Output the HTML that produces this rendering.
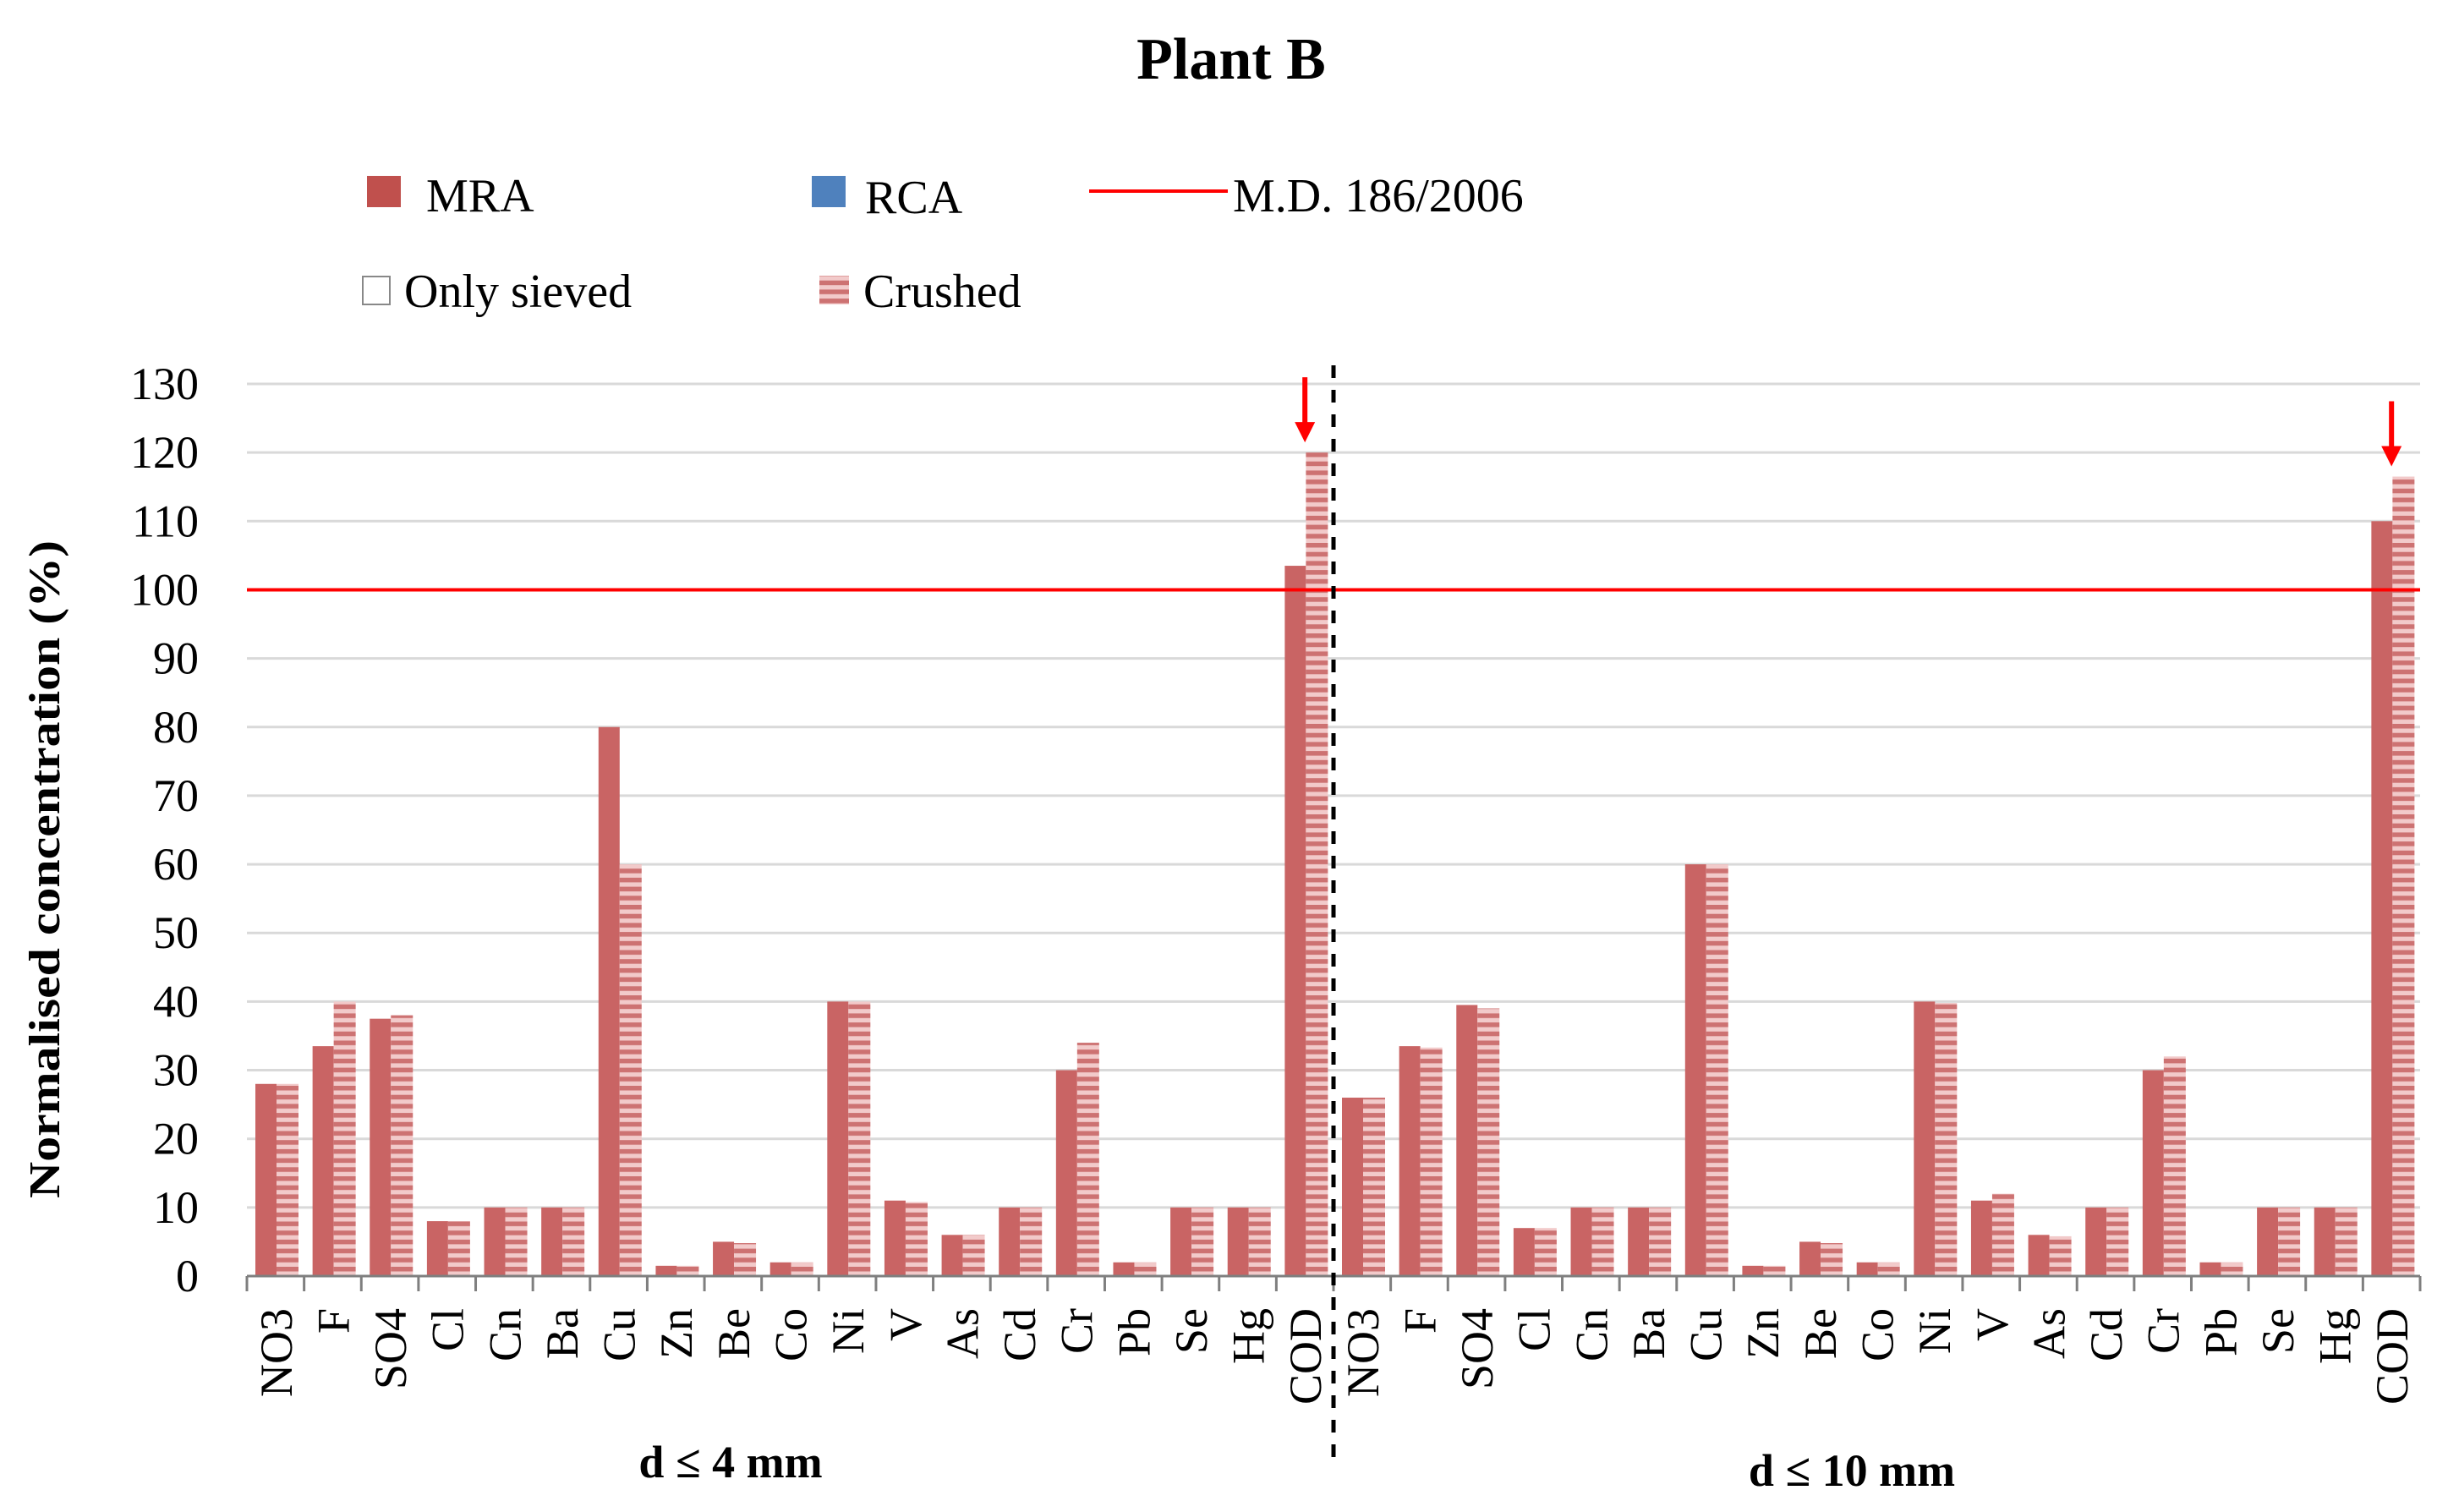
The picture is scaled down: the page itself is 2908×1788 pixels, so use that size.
<!DOCTYPE html>
<html><head><meta charset="utf-8"><title>Plant B</title>
<style>html,body{margin:0;padding:0;background:#fff}svg{display:block}text{font-family:"Liberation Serif",serif;fill:#000}</style></head>
<body>
<svg id="chart" xmlns="http://www.w3.org/2000/svg" width="2908" height="1788" viewBox="0 0 2908 1788">
<defs>
<pattern id="stripes" patternUnits="userSpaceOnUse" width="10" height="10.7">
<rect x="0" y="0" width="10" height="10.7" fill="#f2caca"/>
<rect x="0" y="0" width="10" height="5.5" fill="#cd7272"/>
</pattern>
</defs>
<text x="1456" y="93" font-size="70" font-weight="bold" text-anchor="middle">Plant B</text>
<g>
<rect x="434" y="208" width="40" height="37" fill="#c0504d"/>
<text x="504" y="250" font-size="56">MRA</text>
<rect x="960" y="208" width="40" height="37" fill="#4f81bd"/>
<text x="1023" y="252" font-size="56">RCA</text>
<line x1="1288" y1="226" x2="1452" y2="226" stroke="#ff0000" stroke-width="4"/>
<text x="1458" y="250" font-size="56">M.D. 186/2006</text>
<rect x="429" y="327" width="32" height="33" fill="#fff" stroke="#888" stroke-width="2"/>
<text x="478" y="363" font-size="56">Only sieved</text>
<rect x="969" y="326" width="35" height="34" fill="url(#stripes)"/>
<text x="1021" y="363" font-size="56">Crushed</text>
</g>
<text transform="translate(70,1028) rotate(-90)" font-size="52" font-weight="bold" text-anchor="middle" textLength="778" lengthAdjust="spacingAndGlyphs">Normalised concentration (%)</text>
<g id="grid"></g><g id="bars"></g><g id="axis"></g>
<text x="864" y="1747" font-size="54" font-weight="bold" text-anchor="middle">d ≤ 4 mm</text>
<text x="2190" y="1757" font-size="54" font-weight="bold" text-anchor="middle">d ≤ 10 mm</text>
</svg>
<script>
const categories = ["NO3","F","SO4","Cl","Cn","Ba","Cu","Zn","Be","Co","Ni","V","As","Cd","Cr","Pb","Se","Hg","COD",
                    "NO3","F","SO4","Cl","Cn","Ba","Cu","Zn","Be","Co","Ni","V","As","Cd","Cr","Pb","Se","Hg","COD"];
const sievedValues = [28,33.5,37.5,8,10,10,80,1.5,5,2,40,11,6,10,30,2,10,10,103.5,
                      26,33.5,39.5,7,10,10,60,1.5,5,2,40,11,6,10,30,2,10,10,110];
const crushedValues = [28,40,38,8,10,10,60,1.5,4.8,2,40,10.8,6,10,34,2,10,10,120,
                       26,33.3,39,7,10,10,60,1.5,4.8,2,39.8,12,5.8,10,32,2,10,10,116.5];
const yTicks = [0,10,20,30,40,50,60,70,80,90,100,110,120,130];
const limitValue = [100];
const arrowCategories = [18,37];

const NS="http://www.w3.org/2000/svg";
const L=292,R=2862,Y0=1509,Y130=454;
const catW=(R-L)/categories.length;
const yS=v=>Y0-(v/130)*(Y0-Y130);
const xS=i=>L+i*catW;
function mk(tag,attrs,parent){const e=document.createElementNS(NS,tag);for(const k in attrs)e.setAttribute(k,attrs[k]);parent.appendChild(e);return e;}
const grid=document.getElementById('grid'),bars=document.getElementById('bars'),axis=document.getElementById('axis');
yTicks.forEach(t=>{
  if(t>0){const g=mk('line',{x1:L,x2:R,y1:yS(t),y2:yS(t),stroke:'#d9d9d9','stroke-width':3},grid);
  
  }
  const lb=mk('text',{x:235,y:yS(t)+18,'font-size':54,'text-anchor':'end'},axis);
  lb.textContent=t;
  
  
});
categories.forEach((c,i)=>{
  const x=xS(i);
  const b1=mk('rect',{x:x+10,y:yS(sievedValues[i]),width:25,height:Y0-yS(sievedValues[i]),fill:'#c96464'},bars);
  
  
  const b2=mk('rect',{x:x+35,y:yS(crushedValues[i]),width:26,height:Y0-yS(crushedValues[i]),fill:'url(#stripes)'},bars);
  
  
  const cx=x+catW/2;
  const lb=mk('text',{transform:`translate(${cx+19},1547) rotate(-90)`,'font-size':54,'text-anchor':'end'},axis);
  lb.textContent=c;
  
  
});
for(let i=0;i<=categories.length;i++){
  const tk=mk('line',{x1:xS(i),x2:xS(i),y1:Y0,y2:Y0+18,stroke:'#7f7f7f','stroke-width':3},axis);
  
  
}
const ax=mk('line',{x1:L,x2:R,y1:Y0,y2:Y0,stroke:'#7f7f7f','stroke-width':3},axis);


limitValue.forEach(v=>{
  const ln=mk('line',{x1:L,x2:R,y1:yS(v),y2:yS(v),stroke:'#ff0000','stroke-width':4},axis);
  
  
});
const half=categories.length/2;
const dl=mk('line',{x1:xS(half),x2:xS(half),y1:432,y2:1735,stroke:'#000','stroke-width':5,'stroke-dasharray':'15 14'},axis);


arrowCategories.forEach(i=>{
  const v=Math.max(sievedValues[i],crushedValues[i]);
  const ax2=xS(i)+catW/2;
  const tip=yS(v)-12;
  const g=mk('g',{},axis);
  
  
  mk('line',{x1:ax2,x2:ax2,y1:tip-77,y2:tip-20,stroke:'#ff0000','stroke-width':6},g);
  mk('polygon',{points:`${ax2-12},${tip-24} ${ax2+12},${tip-24} ${ax2},${tip}`,fill:'#ff0000'},g);
});
</script>
</body></html>
